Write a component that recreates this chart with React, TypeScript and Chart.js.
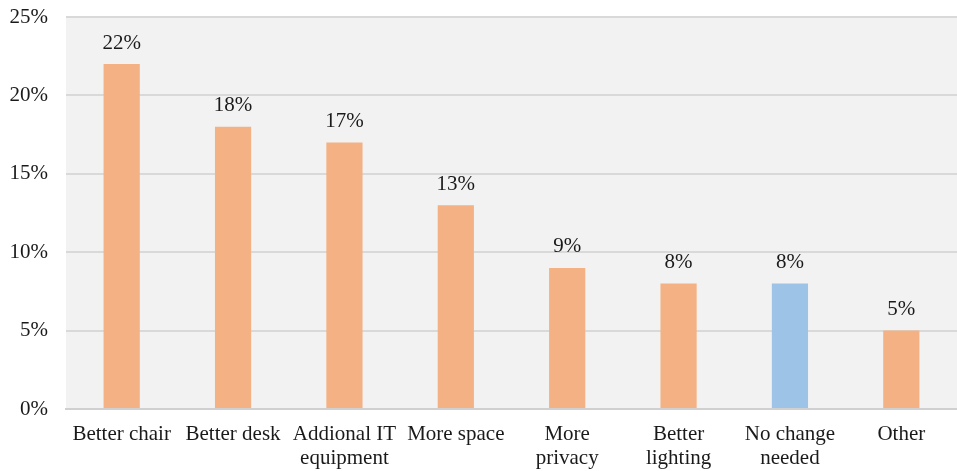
import React, { useEffect, useRef } from "react";
import { Chart, registerables } from "chart.js";

Chart.register(...registerables);

const categories: (string | string[])[] = [
  "Better chair",
  "Better desk",
  ["Addional IT", "equipment"],
  "More space",
  ["More", "privacy"],
  ["Better", "lighting"],
  ["No change", "needed"],
  "Other",
];
const values = [22, 18, 17, 13, 9, 8, 8, 5];
const barColors = ["#f4b183", "#f4b183", "#f4b183", "#f4b183", "#f4b183", "#f4b183", "#9dc3e6", "#f4b183"];

const FONT = "'Liberation Serif', 'Times New Roman', serif";

const bgPlugin = {
  id: "plotBg",
  beforeDraw(chart: any) {
    const { ctx, chartArea } = chart;
    ctx.save();
    ctx.fillStyle = "#f2f2f2";
    ctx.fillRect(chartArea.left, chartArea.top, chartArea.right - chartArea.left, chartArea.bottom - chartArea.top);
    ctx.restore();
  },
};

const labelPlugin = {
  id: "barLabels",
  afterDatasetsDraw(chart: any) {
    const { ctx } = chart;
    const meta = chart.getDatasetMeta(0);
    ctx.save();
    ctx.font = `21px ${FONT}`;
    ctx.fillStyle = "#1a1a1a";
    ctx.textAlign = "center";
    ctx.textBaseline = "middle";
    meta.data.forEach((bar: any, i: number) => {
      ctx.fillText(values[i] + "%", bar.x, bar.y - 21);
    });
    ctx.restore();
  },
};

export default function App() {
  const ref = useRef<HTMLCanvasElement>(null);
  useEffect(() => {
    if (!ref.current) return;
    const chart = new Chart(ref.current, {
      type: "bar",
      data: {
        labels: categories,
        datasets: [
          {
            data: values,
            backgroundColor: barColors,
            barPercentage: 0.325,
            categoryPercentage: 1,
          },
        ],
      },
      options: {
        animation: false,
        responsive: false,
        maintainAspectRatio: false,
        layout: { padding: { top: 17, right: 0, left: 0, bottom: 0 } },
        plugins: { legend: { display: false }, tooltip: { enabled: false } },
        scales: {
          x: {
            grid: { display: false, drawTicks: false },
            border: { display: true, color: "#d0d0d0", width: 2 },
            ticks: {
              color: "#1a1a1a",
              font: { family: FONT, size: 21, lineHeight: 1.15 },
              padding: 13,
              maxRotation: 0,
              autoSkip: false,
            },
            afterFit: (s: any) => {
              s.height = 62;
              s.paddingLeft = 0;
              s.paddingRight = 0;
            },
          },
          y: {
            min: 0,
            max: 25,
            grid: { color: "#d9d9d9", lineWidth: 2, drawTicks: false },
            border: { display: false },
            ticks: {
              stepSize: 5,
              color: "#1a1a1a",
              font: { family: FONT, size: 21 },
              padding: 18,
              callback: (v: any) => v + "%",
            },
            afterFit: (s: any) => {
              s.width = 66;
              s.paddingTop = 0;
              s.paddingBottom = 0;
            },
          },
        },
      },
      plugins: [bgPlugin, labelPlugin],
    });
    return () => chart.destroy();
  }, []);
  return (
    <div style={{ position: "fixed", left: 0, top: 0, width: 957, height: 471, background: "#fff" }}>
      <canvas ref={ref} width={957} height={471} style={{ width: 957, height: 471 }} />
    </div>
  );
}
